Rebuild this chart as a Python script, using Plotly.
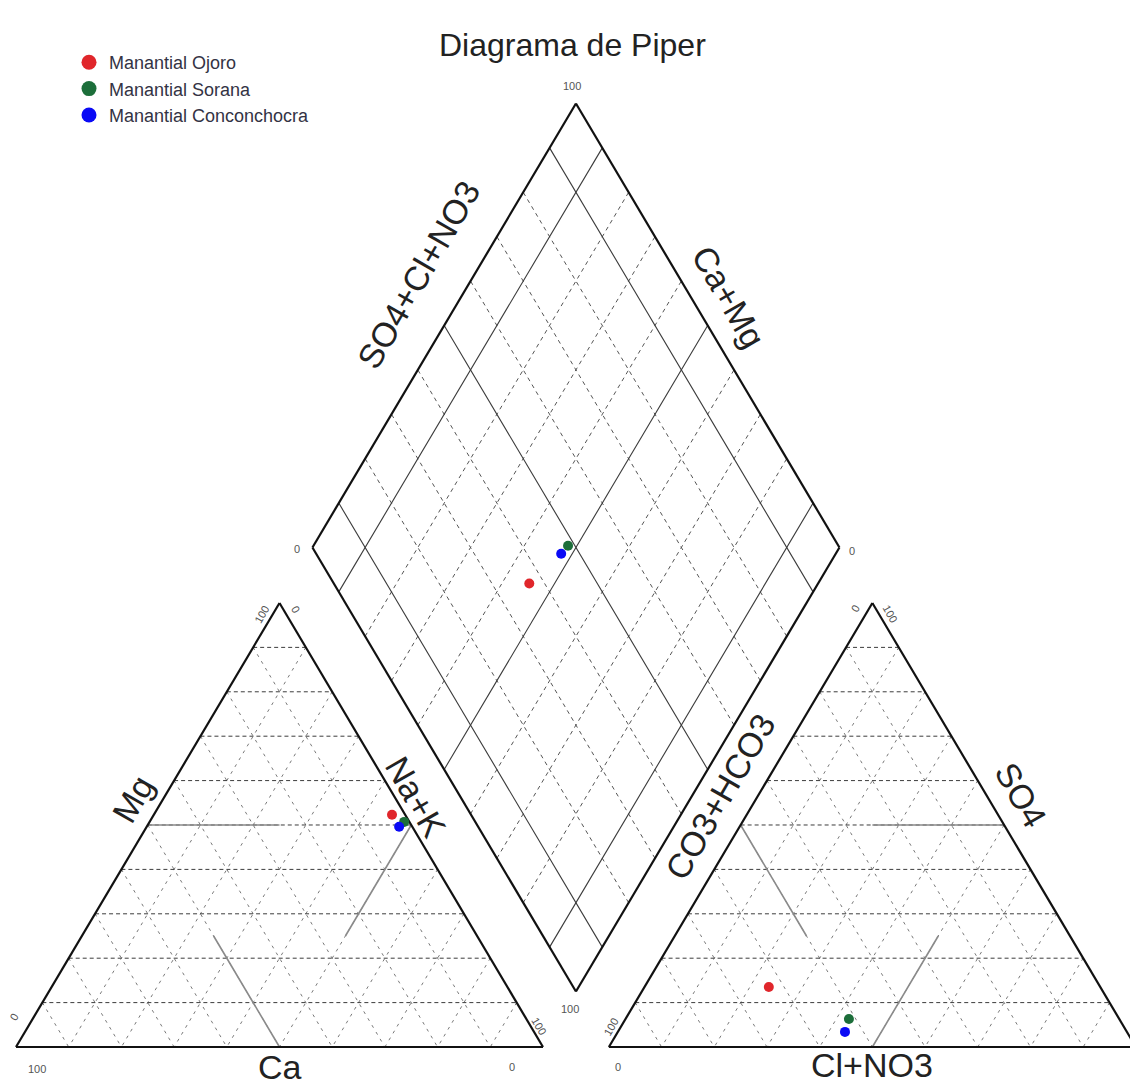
import numpy as np
import plotly.graph_objects as go

# ---------------- data (meq/L percentages) ----------------
samples = ["Manantial Ojoro", "Manantial Sorana", "Manantial Conconchocra"]
colors = ["#e0262b", "#1c6e3a", "#0a0af5"]

ca = [2.5, 1.0, 2.5]
mg = [52.3, 50.7, 49.6]
na_k = [45.2, 48.3, 47.9]

hco3_co3 = [62.9, 51.3, 53.5]
so4 = [13.5, 6.3, 3.4]
cl_no3 = [23.6, 42.4, 43.1]

grid_steps = [10, 20, 30, 40, 50, 60, 70, 80, 90]
diamond_solid = [10, 50, 90]

# ---------------- piper geometry ----------------
H = np.sqrt(3) / 2
GAP = 0.125
# cation triangle corners
P_CA = np.array([0.0, 0.0])
P_NA = np.array([1.0, 0.0])
P_MG = np.array([0.5, H])
# anion triangle corners
P_HCO3 = np.array([1 + GAP, 0.0])
P_CL = np.array([2 + GAP, 0.0])
P_SO4 = np.array([1.5 + GAP, H])
# diamond corners
D_B = np.array([1 + GAP / 2, GAP * H])
D_L = D_B + np.array([-0.5, H])
D_R = D_B + np.array([0.5, H])
D_T = D_B + np.array([0.0, 2 * H])

# pixel scale of the drawing
X0_PX, SX = 16.0, 527.0
Y0_PX, SY = 1047.0, 512.7
W_PX, H_PX = 1130, 1085


def cation_xy(c, m, n):
    s = c + m + n
    return (c * P_CA + m * P_MG + n * P_NA) / s


def anion_xy(h, s4, cl):
    s = h + s4 + cl
    return (h * P_HCO3 + s4 * P_SO4 + cl * P_CL) / s


def diamond_xy(anion_frac, camg_frac):
    return D_B + anion_frac * (D_R - D_B) + camg_frac * (D_L - D_B)


class Segs:
    def __init__(self):
        self.x, self.y = [], []

    def add(self, p, q):
        self.x += [p[0], q[0], None]
        self.y += [p[1], q[1], None]


tri_h = Segs()      # horizontal dashed grid
tri_d = Segs()      # oblique dashed grid
dia_dash = Segs()
dia_solid = Segs()
facies = Segs()
frame = Segs()

for v in grid_steps:
    f = v / 100
    # cation triangle
    tri_h.add(cation_xy(1 - f, f, 0), cation_xy(0, f, 1 - f))
    tri_d.add(cation_xy(f, 1 - f, 0), cation_xy(f, 0, 1 - f))
    tri_d.add(cation_xy(0, 1 - f, f), cation_xy(1 - f, 0, f))
    # anion triangle
    tri_h.add(anion_xy(1 - f, f, 0), anion_xy(0, f, 1 - f))
    tri_d.add(anion_xy(0, 1 - f, f), anion_xy(1 - f, 0, f))
    tri_d.add(anion_xy(f, 1 - f, 0), anion_xy(f, 0, 1 - f))
    # diamond
    tgt = dia_solid if v in diamond_solid else dia_dash
    tgt.add(diamond_xy(f, 0), diamond_xy(f, 1))
    tgt.add(diamond_xy(0, f), diamond_xy(1, f))

# facies division segments
facies.add(cation_xy(0.5, 0.5, 0), cation_xy(0.25, 0.5, 0.25))
facies.add(cation_xy(0.5, 0, 0.5), cation_xy(0.5, 0.25, 0.25))
facies.add(cation_xy(0, 0.5, 0.5), cation_xy(0.25, 0.25, 0.5))
facies.add(anion_xy(0, 0.5, 0.5), anion_xy(0.25, 0.5, 0.25))
facies.add(anion_xy(0.5, 0, 0.5), anion_xy(0.25, 0.25, 0.5))
facies.add(anion_xy(0.5, 0.5, 0), anion_xy(0.5, 0.25, 0.25))

# outlines
for a, b in [(P_CA, P_NA), (P_NA, P_MG), (P_MG, P_CA),
             (P_HCO3, P_CL), (P_CL, P_SO4), (P_SO4, P_HCO3),
             (D_B, D_R), (D_R, D_T), (D_T, D_L), (D_L, D_B)]:
    frame.add(a, b)

fig = go.Figure()


def line_trace(seg, color, width, dash="solid"):
    fig.add_trace(go.Scatter(x=seg.x, y=seg.y, mode="lines", hoverinfo="skip",
                             showlegend=False,
                             line=dict(color=color, width=width, dash=dash)))


line_trace(tri_d, "#7a7a7a", 1, "3px,5px")
line_trace(tri_h, "#3c3c3c", 1, "4px,3px")
line_trace(dia_dash, "#555555", 1, "4px,4px")
line_trace(dia_solid, "#3a3a3a", 1.1)
line_trace(facies, "#8a8a8a", 1.6)
line_trace(frame, "#111111", 2.2)

# sample points in the three fields
for i, name in enumerate(samples):
    pc = cation_xy(ca[i], mg[i], na_k[i])
    pa = anion_xy(hco3_co3[i], so4[i], cl_no3[i])
    camg = (ca[i] + mg[i]) / (ca[i] + mg[i] + na_k[i])
    an = (so4[i] + cl_no3[i]) / (hco3_co3[i] + so4[i] + cl_no3[i])
    pd = diamond_xy(an, camg)
    fig.add_trace(go.Scatter(
        x=[pc[0], pa[0], pd[0]], y=[pc[1], pa[1], pd[1]], mode="markers",
        name=name, showlegend=False,
        marker=dict(color=colors[i], size=10, line=dict(width=0))))

# legend entries
for i, name in enumerate(samples):
    fig.add_trace(go.Scatter(x=[None], y=[None], mode="markers", name=name,
                             marker=dict(color=colors[i], size=15)))

FONT = "Liberation Sans, Arial, sans-serif"
ann = []


def text_at(p, text, size, angle=0, dx=0, dy=0, color="#222222"):
    ann.append(dict(x=p[0], y=p[1], xref="x", yref="y", text=text,
                    showarrow=False, textangle=angle, xshift=dx, yshift=dy,
                    xanchor="center", yanchor="middle",
                    font=dict(family=FONT, size=size, color=color)))


def lerp(a, b, t):
    return a + (b - a) * t


AX = 34
# axis titles
text_at(lerp(P_CA, P_NA, 0.5), "Ca", AX, 0, 0, -20)
text_at(lerp(P_HCO3, P_CL, 0.5), "Cl+NO3", AX, 0, 0, -18)
text_at(lerp(P_CA, P_MG, 0.55), "Mg", AX, -60, -28, 4)
text_at(lerp(P_MG, P_NA, 0.45), "Na+K", AX, 60, 18, 6)
text_at(lerp(P_HCO3, P_SO4, 0.55), "CO3+HCO3", AX, -60, -34, 6)
text_at(lerp(P_SO4, P_CL, 0.45), "SO4", AX, 60, 30, 8)
text_at(lerp(D_L, D_T, 0.6), "SO4+Cl+NO3", AX, -60, -52, 6)
text_at(lerp(D_T, D_R, 0.45), "Ca+Mg", AX, 60, 34, 6)

# corner values
TK = 11
TC = "#555555"
text_at(P_MG, "100", TK, -60, -18, -12, TC)
text_at(P_MG, "0", TK, 60, 16, -6, TC)
text_at(P_CA, "0", TK, -60, -2, 30, TC)
text_at(P_CA, "100", TK, 0, 21, -22, TC)
text_at(P_NA, "100", TK, 60, -4, 21, TC)
text_at(P_NA, "0", TK, 0, -31, -20, TC)
text_at(P_HCO3, "100", TK, -60, 2, 20, TC)
text_at(P_HCO3, "0", TK, 0, 9, -20, TC)
text_at(P_SO4, "0", TK, -60, -17, -5, TC)
text_at(P_SO4, "100", TK, 60, 18, -11, TC)
text_at(P_CL, "0", TK, 60, -11, 35, TC)
text_at(P_CL, "100", TK, 0, -20, -20, TC)
text_at(D_T, "100", TK, 0, -4, 17, TC)
text_at(D_L, "0", TK, 0, -15, -2, TC)
text_at(D_R, "0", TK, 0, 13, -4, TC)
text_at(D_B, "100", TK, 0, -6, -17, TC)

# title
ann.append(dict(x=572 / W_PX, y=1 - 45 / H_PX, xref="paper", yref="paper",
                text="Diagrama de Piper", showarrow=False,
                xanchor="center", yanchor="middle",
                font=dict(family=FONT, size=32, color="#222222")))

fig.update_layout(
    width=W_PX, height=H_PX,
    margin=dict(l=0, r=0, t=0, b=0),
    paper_bgcolor="white", plot_bgcolor="white",
    xaxis=dict(range=[-X0_PX / SX, (W_PX - X0_PX) / SX], visible=False,
               fixedrange=True),
    yaxis=dict(range=[-(H_PX - Y0_PX) / SY, Y0_PX / SY], visible=False,
               fixedrange=True),
    annotations=ann,
    showlegend=True,
    legend=dict(x=69 / W_PX, y=1 - 44 / H_PX, xanchor="left", yanchor="top",
                bgcolor="rgba(0,0,0,0)", borderwidth=0,
                font=dict(family=FONT, size=18, color="#333344"),
                itemwidth=30, tracegroupgap=0),
)

fig.write_html("out.html")
